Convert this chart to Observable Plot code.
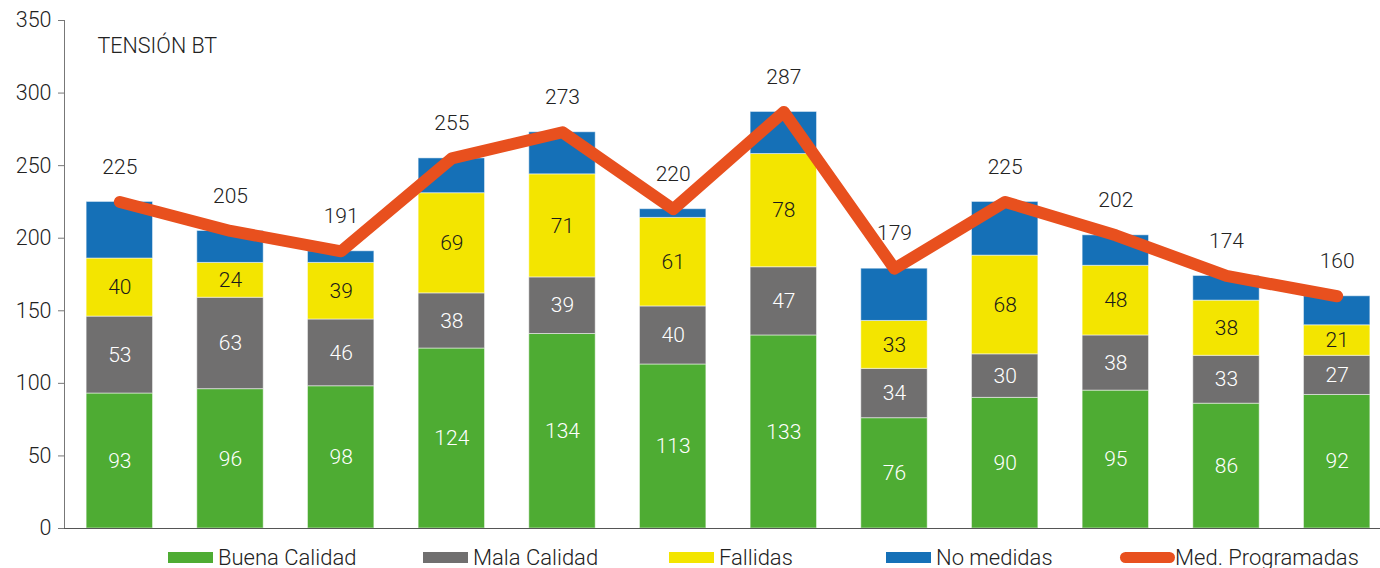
<!DOCTYPE html>
<html>
<head>
<meta charset="utf-8">
<script src="https://cdn.jsdelivr.net/npm/d3@7"></script>
<script src="https://cdn.jsdelivr.net/npm/@observablehq/plot@0.6"></script>
<style>
  body { margin: 0; background: #fff; font-family: Roboto, "DejaVu Sans", sans-serif; }
  #wrap { width: 1380px; position: relative; }
  #legend { position: relative; height: 28px; width: 1380px; font-size: 22px; font-weight: 300; color: #222; }
  .item { position: absolute; top: 0; height: 34px; display: flex; align-items: center; }
  .sw { display: inline-block; height: 11px; margin-right: 5px; }
  .ln { display: inline-block; height: 11px; border-radius: 6px; margin-right: 0px; }
  svg text { font-weight: 300; }
</style>
</head>
<body>
<div id="wrap"></div>
<script>
const categories = ["1","2","3","4","5","6","7","8","9","10","11","12"];
const buenaCalidad = [93, 96, 98, 124, 134, 113, 133, 76, 90, 95, 86, 92];
const malaCalidad  = [53, 63, 46, 38, 39, 40, 47, 34, 30, 38, 33, 27];
const fallidas     = [40, 24, 39, 69, 71, 61, 78, 33, 68, 48, 38, 21];
const noMedidas    = [39, 22, 8, 24, 29, 6, 29, 36, 37, 21, 17, 20];
const medProgramadas = [225, 205, 191, 255, 273, 220, 287, 179, 225, 202, 174, 160];
const yTicks = [0, 50, 100, 150, 200, 250, 300, 350];
const seriesNames = ["Buena Calidad", "Mala Calidad", "Fallidas", "No medidas"];
const seriesColors = ["#4EAC33", "#706F6F", "#F3E500", "#1570B7"];
const labelColors = ["#ffffff", "#ffffff", "#1a1a1a", "none"];
const lineName = "Med. Programadas";
const lineColor = "#E8501E";

const seriesValues = [buenaCalidad, malaCalidad, fallidas, noMedidas];
const table = [];
categories.forEach((c, i) => {
  seriesNames.forEach((s, k) => {
    table.push({cat: c, series: s, value: seriesValues[k][i], k});
  });
});
const lineData = categories.map((c, i) => ({cat: c, value: medProgramadas[i]}));

const chart = Plot.plot({
  width: 1380,
  height: 540,
  marginTop: 20,
  marginBottom: 12,
  marginLeft: 64,
  marginRight: 0,
  style: {fontFamily: "Roboto, sans-serif", fontSize: "21px", color: "#222", background: "#fff"},
  x: {domain: categories, range: [64, 1392], paddingInner: 0.4, paddingOuter: 0.2, round: false, axis: null},
  y: {domain: [0, 350], ticks: yTicks, label: null},
  color: {domain: seriesNames, range: seriesColors},
  marks: [
    Plot.barY(table, Plot.stackY({x: "cat", y: "value", fill: "series", stroke: "#ffffff", strokeOpacity: 0.5, strokeWidth: 1})),
    Plot.text(table.filter(d => d.series !== "No medidas"), Plot.stackY({
      x: "cat", y: "value", text: d => String(d.value),
      fill: d => labelColors[d.k], fontSize: 21
    })),
    Plot.axisY({ticks: yTicks, tickSize: 6, tickPadding: 7, fontSize: 21.5, stroke: "#777", fill: "#222", label: null}),
    Plot.frame({anchor: "left", stroke: "#777"}),
    Plot.ruleY([0], {stroke: "#555", strokeWidth: 1.2}),
    Plot.line(lineData, {x: "cat", y: "value", stroke: lineColor, strokeWidth: 12, strokeLinecap: "round", strokeLinejoin: "round"}),
    Plot.text(lineData, {x: "cat", y: "value", text: d => String(d.value), dy: -35, fontSize: 21, fill: "#222"}),
    Plot.text(["TENSIÓN BT"], {frameAnchor: "top-left", dx: 33, dy: 26, textAnchor: "start", lineAnchor: "middle", fontSize: 21.5, fill: "#222"})
  ]
});

const wrap = document.getElementById("wrap");
wrap.appendChild(chart);

const legend = document.createElement("div");
legend.id = "legend";
const items = [
  {name: seriesNames[0], color: seriesColors[0], left: 168, w: 45},
  {name: seriesNames[1], color: seriesColors[1], left: 423, w: 45},
  {name: seriesNames[2], color: seriesColors[2], left: 669, w: 45},
  {name: seriesNames[3], color: seriesColors[3], left: 886, w: 45},
  {name: lineName, color: lineColor, left: 1120, w: 55, line: true}
];
items.forEach(it => {
  const d = document.createElement("div");
  d.className = "item";
  d.style.left = it.left + "px";
  const s = document.createElement("span");
  s.className = it.line ? "ln" : "sw";
  s.style.width = it.w + "px";
  s.style.background = it.color;
  d.appendChild(s);
  const t = document.createElement("span");
  t.textContent = it.name;
  d.appendChild(t);
  legend.appendChild(d);
});
wrap.appendChild(legend);
</script>
</body>
</html>
